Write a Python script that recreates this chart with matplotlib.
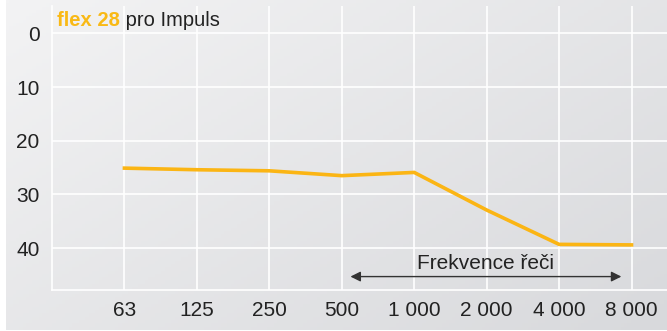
import matplotlib
matplotlib.use("Agg")
import matplotlib.pyplot as plt
import numpy as np

categories = ["63", "125", "250", "500", "1 000", "2 000", "4 000", "8 000"]
values = [25.1, 25.4, 25.6, 26.5, 25.9, 32.9, 39.3, 39.4]
yticks = [0, 10, 20, 30, 40]
title_brand = "flex 28"
title_rest = " pro Impuls"
arrow_label = "Frekvence řeči"

plt.rcParams['font.family'] = ['Liberation Sans', 'DejaVu Sans']

fig = plt.figure(figsize=(6.67, 3.31), dpi=100)
fig.patch.set_facecolor("white")

# background gradient
bg = fig.add_axes([6/667, 1/331, 1 - 6/667, 1 - 1/331])
xx, yy = np.meshgrid(np.linspace(0, 1, 200), np.linspace(0, 1, 100))
grad = 0.55 * xx + 0.45 * yy
c0 = np.array([0xf3, 0xf3, 0xf4]) / 255
c1 = np.array([0xd8, 0xd9, 0xdc]) / 255
img = c0[None, None, :] * (1 - grad[..., None]) + c1[None, None, :] * grad[..., None]
bg.imshow(img, aspect="auto", extent=[0, 1, 0, 1], origin="upper")
bg.set_axis_off()

ax = fig.add_axes([52/667, 41/331, 1 - 52/667, 1 - 41/331 - 6/331])
ax.patch.set_alpha(0)
x = np.arange(len(categories))
ax.plot(x, values, color="#fbb514", lw=2.6, solid_joinstyle="miter", zorder=3)

ax.set_xlim(-1, 7.49)
ax.set_ylim(47.8, -5.1)
ax.set_xticks(x)
ax.set_xticklabels(categories)
ax.set_yticks(yticks)
ax.grid(True, color="white", lw=1.2)
ax.set_axisbelow(True)
for s in ["top", "right"]:
    ax.spines[s].set_visible(False)
for s in ["left", "bottom"]:
    ax.spines[s].set_color("white")
    ax.spines[s].set_linewidth(1.2)
ax.tick_params(length=0, labelsize=15, colors="#222222")
ax.tick_params(axis="x", pad=8)
ax.tick_params(axis="y", pad=9)

# arrow
ax.annotate("", xy=(6.86, 45.3), xytext=(3.12, 45.3),
            arrowprops=dict(arrowstyle="<|-|>", color="#333333", lw=1.0,
                            mutation_scale=15, shrinkA=0, shrinkB=0))
ax.text(4.99, 42.9, arrow_label, ha="center", va="center", fontsize=15, color="#222222")

# title
t1 = fig.text(57/667, 1 - 20/331, title_brand, fontsize=14.5, fontweight="bold",
              color="#f9b915", va="center", ha="left")
fig.canvas.draw()
bb = t1.get_window_extent()
fig.text(bb.x1 / fig.bbox.width, 1 - 20/331, title_rest, fontsize=14.5,
         color="#222222", va="center", ha="left")

fig.savefig("out.png", dpi=100)
